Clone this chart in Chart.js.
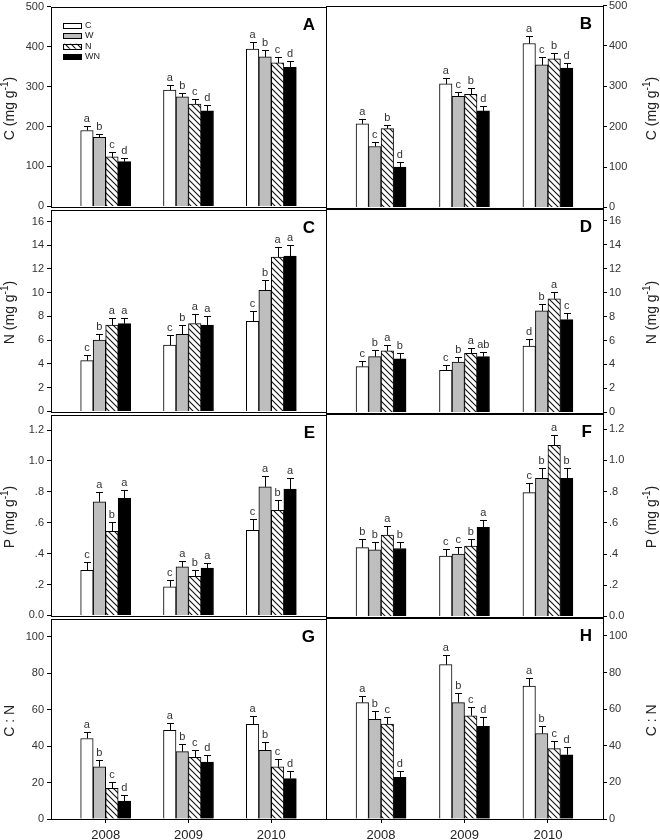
<!DOCTYPE html>
<html>
<head>
<meta charset="utf-8">
<script src="https://cdn.jsdelivr.net/npm/chart.js@4.4.0/dist/chart.umd.min.js"></script>
<style>
  body { margin: 0; background: #fff; width: 660px; height: 840px; position: relative; overflow: hidden; }
  canvas { position: absolute; left: 0; }
</style>
</head>
<body>
<script>
// categories / series
const years = [2008, 2009, 2010];
const series = ['C', 'W', 'N', 'WN'];

// values per series (C, W, N, WN), one entry per year
const valsA = [[190, 291, 394], [173, 274, 374], [124, 256, 359], [112, 239, 348]];
const errsA = [[10, 14, 17], [9, 11, 18], [11, 12, 14], [8, 14, 16]];
const letsA = [['a', 'a', 'a'], ['b', 'b', 'b'], ['c', 'c', 'c'], ['d', 'd', 'd']];

const valsB = [[207, 306, 406], [151, 275, 353], [195, 280, 368], [100, 239, 345]];
const errsB = [[11, 15, 18], [12, 10, 19], [9, 15, 14], [12, 12, 14]];
const letsB = [['a', 'a', 'a'], ['c', 'c', 'c'], ['b', 'b', 'b'], ['d', 'd', 'd']];

const valsC = [[4.28, 5.58, 7.58], [6.0, 6.5, 10.19], [7.28, 7.39, 13.0], [7.39, 7.28, 13.08]];
const errsC = [[0.5, 0.84, 0.89], [0.5, 0.75, 0.91], [0.62, 0.78, 0.86], [0.51, 0.78, 0.92]];
const letsC = [['c', 'c', 'c'], ['b', 'b', 'b'], ['a', 'a', 'a'], ['a', 'a', 'a']];

const valsD = [[3.82, 3.51, 5.54], [4.65, 4.2, 8.47], [5.13, 4.93, 9.47], [4.46, 4.65, 7.74]];
const errsD = [[0.5, 0.45, 0.62], [0.55, 0.45, 0.55], [0.52, 0.45, 0.59], [0.47, 0.39, 0.59]];
const letsD = [['c', 'c', 'd'], ['b', 'b', 'b'], ['a', 'a', 'a'], ['b', 'ab', 'c']];

const valsE = [[0.291, 0.185, 0.55], [0.735, 0.314, 0.832], [0.544, 0.253, 0.68], [0.758, 0.306, 0.817]];
const errsE = [[0.057, 0.042, 0.074], [0.061, 0.036, 0.068], [0.059, 0.038, 0.067], [0.057, 0.036, 0.075]];
const letsE = [['c', 'c', 'c'], ['a', 'a', 'a'], ['b', 'b', 'b'], ['a', 'a', 'a']];

const valsF = [[0.441, 0.386, 0.793], [0.426, 0.40, 0.885], [0.522, 0.45, 1.096], [0.435, 0.571, 0.885]];
const errsF = [[0.056, 0.045, 0.062], [0.054, 0.048, 0.068], [0.056, 0.047, 0.066], [0.045, 0.047, 0.064]];
const letsF = [['b', 'c', 'c'], ['b', 'c', 'b'], ['a', 'b', 'a'], ['b', 'a', 'b']];

const valsG = [[44.2, 48.7, 52.0], [28.7, 37.0, 37.7], [16.8, 33.8, 28.7], [9.9, 31.2, 22.2]];
const errsG = [[3.3, 4.0, 4.7], [3.8, 4.0, 4.5], [3.4, 3.9, 4.3], [3.3, 3.8, 4.3]];
const letsG = [['a', 'a', 'a'], ['b', 'b', 'b'], ['c', 'c', 'c'], ['d', 'd', 'd']];

const valsH = [[63.6, 84.3, 72.6], [54.4, 63.6, 46.7], [51.9, 56.4, 38.4], [22.7, 50.6, 35.1]];
const errsH = [[3.8, 5.2, 4.5], [4.7, 5.0, 3.9], [3.8, 5.0, 4.3], [3.6, 5.1, 4.2]];
const letsH = [['a', 'a', 'a'], ['b', 'b', 'b'], ['c', 'c', 'c'], ['d', 'd', 'd']];

// y axis ticks and labels
const ticksCarbon = [0, 100, 200, 300, 400, 500];
const ticksNitro = [0, 2, 4, 6, 8, 10, 12, 14, 16];
const ticksPhos = [0, 0.2, 0.4, 0.6, 0.8, 1.0, 1.2];
const labelsPhos = ['0.0', '.2', '.4', '.6', '.8', '1.0', '1.2'];
const ticksRatio = [0, 20, 40, 60, 80, 100];
const yTitles = ['C (mg g^-1)', 'N (mg g^-1)', 'P (mg g^-1)', 'C : N'];
const panelNames = ['A', 'B', 'C', 'D', 'E', 'F', 'G', 'H'];

const FONT = '"Liberation Sans", Arial, sans-serif';
const rowTop = [5, 208, 413, 617];
const rowBot = [208, 413, 617, 819];

function hatch() {
  const c = document.createElement('canvas');
  c.width = 6; c.height = 6;
  const g = c.getContext('2d');
  g.fillStyle = '#fff';
  g.fillRect(0, 0, 6, 6);
  g.strokeStyle = '#111';
  g.lineWidth = 1.1;
  g.beginPath();
  g.moveTo(0, 0); g.lineTo(6, 6);
  g.moveTo(-1, 5); g.lineTo(1, 7);
  g.moveTo(5, -1); g.lineTo(7, 1);
  g.stroke();
  return g.createPattern(c, 'repeat');
}
const fills = ['#ffffff', '#bebebe', hatch(), '#000000'];

function drawTitle(ctx, text, x, y) {
  const parts = text.split(/\^(-?\d+)/);
  const big = '14px ' + FONT, small = '10px ' + FONT;
  ctx.save();
  ctx.translate(x, y);
  ctx.rotate(-Math.PI / 2);
  let w = 0;
  parts.forEach((p, i) => { ctx.font = i % 2 ? small : big; w += ctx.measureText(p).width; });
  let cx = -w / 2;
  ctx.textAlign = 'left';
  ctx.textBaseline = 'middle';
  ctx.fillStyle = '#222';
  parts.forEach((p, i) => {
    ctx.font = i % 2 ? small : big;
    ctx.fillText(p, cx, i % 2 ? -5 : 0);
    cx += ctx.measureText(p).width;
  });
  ctx.restore();
}

function makeDeco(opt) {
  return {
    id: 'deco',
    afterDraw(chart) {
      const ctx = chart.ctx;
      const a = chart.chartArea;
      const ys = chart.scales.y;
      ctx.save();
      // error bars + letters
      chart.data.datasets.forEach((ds, i) => {
        const meta = chart.getDatasetMeta(i);
        meta.data.forEach((bar, j) => {
          const v = ds.data[j].y;
          const ey = ys.getPixelForValue(v + ds.errs[j]);
          const x = Math.round(bar.x) + 0.5;
          ctx.strokeStyle = '#000';
          ctx.lineWidth = 1;
          ctx.beginPath();
          ctx.moveTo(x, bar.y);
          ctx.lineTo(x, Math.round(ey) + 0.5);
          ctx.moveTo(x - 3.5, Math.round(ey) + 0.5);
          ctx.lineTo(x + 3.5, Math.round(ey) + 0.5);
          ctx.stroke();
          ctx.font = '11px ' + FONT;
          ctx.fillStyle = '#333';
          ctx.textAlign = 'center';
          ctx.textBaseline = 'alphabetic';
          ctx.fillText(ds.lets[j], bar.x, ey - 4);
        });
      });
      // frame
      ctx.strokeStyle = '#000';
      ctx.lineWidth = 1;
      ctx.strokeRect(Math.round(a.left) + 0.5, Math.round(a.top) + 0.5,
        Math.round(a.right - a.left), Math.round(a.bottom - a.top));
      // panel letter
      ctx.font = 'bold 17px ' + FONT;
      ctx.fillStyle = '#000';
      ctx.textAlign = 'right';
      ctx.textBaseline = 'middle';
      ctx.fillText(opt.name, a.right - 11, a.top + 19);
      // axis title
      drawTitle(ctx, opt.title, opt.side === 'L' ? 10 : 652, (a.top + a.bottom) / 2 + 2);
      // legend
      if (opt.legend) {
        chart.data.datasets.forEach((ds, i) => {
          const yc = a.top + 19 + i * 10.3;
          const bx = a.left + 12;
          ctx.fillStyle = ds.backgroundColor;
          ctx.fillRect(bx, yc - 2.5, 18, 5);
          ctx.strokeStyle = '#000';
          ctx.strokeRect(bx + 0.5, Math.round(yc - 2.5) + 0.5, 18, 5);
          ctx.font = '9px ' + FONT;
          ctx.fillStyle = '#222';
          ctx.textAlign = 'left';
          ctx.textBaseline = 'middle';
          ctx.fillText(ds.label, bx + 22, yc);
        });
      }
      ctx.restore();
    }
  };
}

function panel(opt) {
  const last = opt.row === 3;
  const left = opt.side === 'L';
  const h = rowBot[opt.row] - rowTop[opt.row];
  const cv = document.createElement('canvas');
  cv.width = 660;
  cv.height = h + 8 + (last ? 30 : 8);
  cv.style.top = (rowTop[opt.row] - 8) + 'px';
  document.body.appendChild(cv);

  new Chart(cv, {
    type: 'bar',
    data: {
      datasets: series.map((s, i) => ({
        label: s,
        data: years.map((yr, j) => ({ x: yr, y: opt.vals[i][j] })),
        errs: opt.errs[i],
        lets: opt.lets[i],
        backgroundColor: fills[i],
        borderColor: '#000',
        borderWidth: 1,
        barThickness: 12.5
      }))
    },
    options: {
      responsive: false,
      animation: false,
      events: [],
      layout: { padding: { left: left ? 0 : 326, right: left ? 334 : 0, top: 8, bottom: last ? 0 : 8 } },
      plugins: { legend: { display: false }, tooltip: { enabled: false } },
      scales: {
        x: {
          type: 'linear',
          min: 2007.34,
          max: 2010.66,
          offset: false,
          display: last,
          afterBuildTicks: s => { s.ticks = years.map(v => ({ value: v })); },
          afterFit: s => { s.height = last ? 30 : 0; },
          grid: { offset: false, drawOnChartArea: false, color: '#000', tickLength: 4 },
          border: { display: false },
          ticks: {
            callback: v => String(v),
            font: { family: FONT, size: 13 },
            color: '#222',
            padding: 5,
            maxRotation: 0,
            autoSkip: false
          }
        },
        y: {
          position: left ? 'left' : 'right',
          min: 0,
          max: opt.yMax,
          afterBuildTicks: s => { s.ticks = opt.yTicks.map(v => ({ value: v })); },
          afterFit: s => { s.width = left ? 51 : 57; },
          grid: { drawOnChartArea: false, color: '#000', tickLength: 4 },
          border: { display: false },
          ticks: {
            callback: (v, i) => opt.tickText[i],
            font: { family: FONT, size: 11 },
            color: '#333',
            padding: left ? 3 : 2,
            autoSkip: false
          }
        }
      }
    },
    plugins: [makeDeco(opt)]
  });
}

const panelVals = [valsA, valsB, valsC, valsD, valsE, valsF, valsG, valsH];
const panelErrs = [errsA, errsB, errsC, errsD, errsE, errsF, errsG, errsH];
const panelLets = [letsA, letsB, letsC, letsD, letsE, letsF, letsG, letsH];
const rowTicks = [ticksCarbon, ticksNitro, ticksPhos, ticksRatio];
const rowTickText = [ticksCarbon.map(String), ticksNitro.map(String), labelsPhos, ticksRatio.map(String)];
const rowMax = [500, 17, 1.3, 110];

for (let k = 0; k < 8; k++) {
  const row = Math.floor(k / 2);
  panel({
    row: row,
    side: k % 2 === 0 ? 'L' : 'R',
    name: panelNames[k],
    title: yTitles[row],
    vals: panelVals[k],
    errs: panelErrs[k],
    lets: panelLets[k],
    yMax: rowMax[row],
    yTicks: rowTicks[row],
    tickText: rowTickText[row],
    legend: k === 0
  });
}
</script>
</body>
</html>
